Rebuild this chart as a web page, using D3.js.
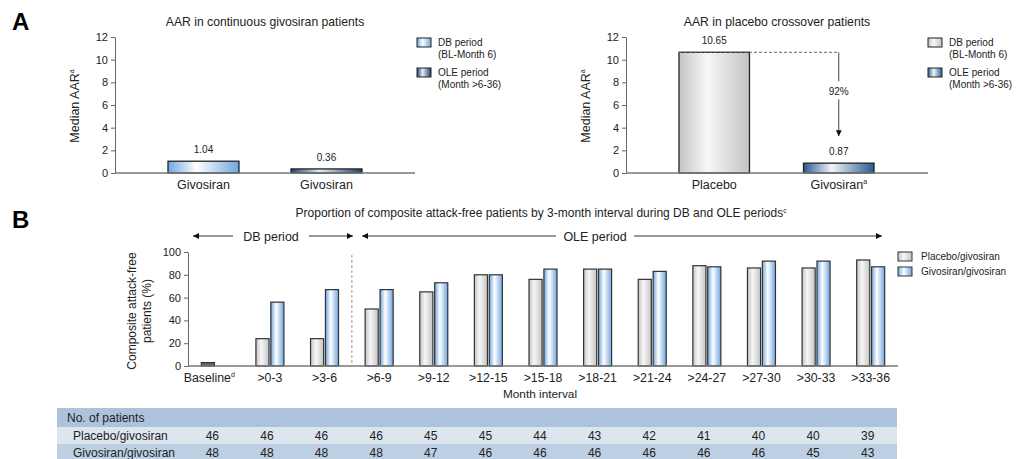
<!DOCTYPE html>
<html>
<head>
<meta charset="utf-8">
<script src="https://cdn.jsdelivr.net/npm/d3@7"></script>
<style>
  body { margin: 0; background: #fff; }
  svg { font-family: "Liberation Sans", Arial, sans-serif; }
  .axis path, .axis line { stroke: #666; }
  .axis text { fill: #222; font-size: 11px; }
</style>
</head>
<body>
<svg id="chart" width="1019" height="459"></svg>
<script>
// ---- data ----
const aar_left_keys = ["DB", "OLE"];
const aar_left_labels = ["Givosiran", "Givosiran"];
const aar_left_values = [1.04, 0.36];

const aar_right_keys = ["DB", "OLE"];
const aar_right_labels = ["Placebo", "Givosiran"];
const aar_right_values = [10.65, 0.87];
const reduction_label = "92%";

const intervals = ["Baseline", ">0-3", ">3-6", ">6-9", ">9-12", ">12-15", ">15-18", ">18-21", ">21-24", ">24-27", ">27-30", ">30-33", ">33-36"];
const placebo_free = [3, 24, 24, 50, 65, 80, 76, 85, 76, 88, 86, 86, 93];
const givosiran_free = [null, 56, 67, 67, 73, 80, 85, 85, 83, 87, 92, 92, 87];

const n_placebo = [46, 46, 46, 46, 45, 45, 44, 43, 42, 41, 40, 40, 39];
const n_givosiran = [48, 48, 48, 48, 47, 46, 46, 46, 46, 46, 46, 45, 43];

const yTicksA = [0, 2, 4, 6, 8, 10, 12];
const yTicksB = [0, 20, 40, 60, 80, 100];

const svg = d3.select("#chart");
const defs = svg.append("defs");

function add_gradient(id, edge, mid) {
    let g = defs.append("linearGradient").attr("id", id)
        .attr("x1", "0%").attr("x2", "100%").attr("y1", "0%").attr("y2", "0%");
    g.append("stop").attr("offset", "0%").attr("stop-color", edge);
    g.append("stop").attr("offset", "40%").attr("stop-color", mid);
    g.append("stop").attr("offset", "100%").attr("stop-color", edge);
}
add_gradient("g_light", "#6fa6df", "#ffffff");
add_gradient("g_gray", "#c4c4c4", "#f7f7f7");
add_gradient("g_dark", "#1b416c", "#e6edf5");
add_gradient("g_mid", "#285a93", "#f0f4f8");

defs.append("marker").attr("id", "arrowhead")
    .attr("viewBox", "0 0 10 10").attr("refX", 10).attr("refY", 5)
    .attr("markerWidth", 9).attr("markerHeight", 6).attr("orient", "auto-start-reverse")
    .attr("markerUnits", "userSpaceOnUse")
    .append("path").attr("d", "M0,0L10,5L0,10Z").attr("fill", "#111");

// panel letters
svg.append("text").attr("x", 12).attr("y", 30).text("A")
    .attr("font-size", 24).attr("font-weight", "bold");
svg.append("text").attr("x", 12).attr("y", 228).text("B")
    .attr("font-size", 24).attr("font-weight", "bold");

// ---- panel A ----
const yA = d3.scaleLinear().domain([0, 12]).range([173, 37]);

function draw_aar(opt) {
    let g = svg.append("g");
    let x = d3.scaleBand().domain(opt.keys).range(opt.range)
        .paddingInner(opt.pad).paddingOuter(0);

    g.append("text").attr("x", opt.titleX).attr("y", 26).attr("text-anchor", "middle")
        .attr("font-size", 12.2).attr("fill", "#222").text(opt.title);

    g.append("g").attr("class", "axis")
        .attr("transform", `translate(${opt.axisX},0)`)
        .call(d3.axisLeft(yA).tickValues(yTicksA).tickSize(4).tickPadding(3).tickSizeOuter(0));

    let yl = g.append("text")
        .attr("transform", `translate(${opt.axisX - 36},106)rotate(-90)`)
        .attr("text-anchor", "middle").attr("font-size", 12.5).attr("fill", "#222");
    yl.append("tspan").text("Median AAR");
    yl.append("tspan").text("a").attr("font-size", 7).attr("dy", -5);

    g.selectAll("rect.bar").data(opt.values).enter().append("rect")
        .attr("class", "bar")
        .attr("x", (d, i) => x(opt.keys[i]))
        .attr("width", x.bandwidth())
        .attr("y", d => yA(d))
        .attr("height", d => yA(0) - yA(d))
        .attr("fill", (d, i) => `url(#${opt.fills[i]})`)
        .attr("stroke", "#222").attr("stroke-width", 1.3);

    g.selectAll("text.val").data(opt.values).enter().append("text")
        .attr("class", "val")
        .attr("x", (d, i) => x(opt.keys[i]) + x.bandwidth() / 2)
        .attr("y", d => yA(d) - 8)
        .attr("text-anchor", "middle").attr("font-size", 10).attr("fill", "#222")
        .text(d => d.toFixed(2));

    g.append("line").attr("x1", opt.axisX).attr("x2", opt.axisEnd)
        .attr("y1", yA(0)).attr("y2", yA(0))
        .attr("stroke", "#777").attr("stroke-width", 1.5);

    g.selectAll("text.cat").data(opt.labels).enter().append("text")
        .attr("class", "cat")
        .attr("x", (d, i) => x(opt.keys[i]) + x.bandwidth() / 2)
        .attr("y", 189).attr("text-anchor", "middle")
        .attr("font-size", 12.5).attr("fill", "#222")
        .each(function (d, i) {
            d3.select(this).append("tspan").text(d);
            if (opt.sup[i]) d3.select(this).append("tspan").text(opt.sup[i])
                .attr("font-size", 7).attr("dy", -5);
        });

    // legend
    let lg = g.append("g").attr("transform", `translate(${opt.legX},0)`);
    let items = [["DB period", "(BL-Month 6)"], ["OLE period", "(Month >6-36)"]];
    items.forEach((it, i) => {
        let y0 = 38 + i * 30;
        lg.append("rect").attr("x", 0).attr("y", y0).attr("width", 14).attr("height", 9)
            .attr("fill", `url(#${opt.fills[i]})`).attr("stroke", "#222").attr("stroke-width", 1);
        lg.append("text").attr("x", 21).attr("y", y0 + 8).attr("font-size", 10)
            .attr("fill", "#222").text(it[0]);
        lg.append("text").attr("x", 21).attr("y", y0 + 20).attr("font-size", 10)
            .attr("fill", "#222").text(it[1]);
    });
    return { g, x };
}

draw_aar({
    keys: aar_left_keys, labels: aar_left_labels, values: aar_left_values, sup: ["", ""],
    range: [168, 362], pad: 0.423, axisX: 115, axisEnd: 415, titleX: 265,
    title: "AAR in continuous givosiran patients", fills: ["g_light", "g_dark"], legX: 417
});

const right = draw_aar({
    keys: aar_right_keys, labels: aar_right_labels, values: aar_right_values, sup: ["", "a"],
    range: [679, 874], pad: 0.434, axisX: 626, axisEnd: 928, titleX: 777,
    title: "AAR in placebo crossover patients", fills: ["g_gray", "g_mid"], legX: 928
});

// reduction arrow
{
    let x = right.x;
    let xa = x("OLE") + x.bandwidth() / 2;
    let ytop = yA(aar_right_values[0]);
    let yend = yA(aar_right_values[1]) - 27;
    right.g.append("line").attr("x1", x("DB")).attr("x2", xa).attr("y1", ytop).attr("y2", ytop)
        .attr("stroke", "#666").attr("stroke-dasharray", "3,2");
    right.g.append("line").attr("x1", xa).attr("x2", xa).attr("y1", ytop).attr("y2", ytop + 29)
        .attr("stroke", "#444");
    right.g.append("line").attr("x1", xa).attr("x2", xa).attr("y1", ytop + 47).attr("y2", yend)
        .attr("stroke", "#444").attr("marker-end", "url(#arrowhead)");
    right.g.append("text").attr("x", xa).attr("y", ytop + 43).attr("text-anchor", "middle")
        .attr("font-size", 10).attr("fill", "#222").text(reduction_label);
}

// ---- panel B ----
const x0 = d3.scaleBand().domain(intervals).range([188, 898]).padding(0);
const x1 = d3.scaleBand().domain(["placebo", "givosiran"])
    .range([x0.bandwidth() / 2 - 14, x0.bandwidth() / 2 + 14]).paddingInner(0.12);
const yB = d3.scaleLinear().domain([0, 100]).range([366, 252]);

const gB = svg.append("g");

let tB = gB.append("text").attr("x", 541).attr("y", 217).attr("text-anchor", "middle")
    .attr("font-size", 12).attr("fill", "#222");
tB.append("tspan").text("Proportion of composite attack-free patients by 3-month interval during DB and OLE periods");
tB.append("tspan").text("c").attr("font-size", 6.5).attr("dy", -4);

// period arrows
function period_arrow(x_start, x_end, tx, label, w) {
    gB.append("line").attr("x1", tx - w / 2 - 7).attr("x2", x_start).attr("y1", 236).attr("y2", 236)
        .attr("stroke", "#333").attr("marker-end", "url(#arrowhead)");
    gB.append("line").attr("x1", tx + w / 2 + 7).attr("x2", x_end).attr("y1", 236).attr("y2", 236)
        .attr("stroke", "#333").attr("marker-end", "url(#arrowhead)");
    gB.append("text").attr("x", tx).attr("y", 240.5).attr("text-anchor", "middle")
        .attr("font-size", 12.5).attr("fill", "#222").text(label);
}
period_arrow(193, 353, 271, "DB period", 62);
period_arrow(362, 882, 595, "OLE period", 64);

gB.append("g").attr("class", "axis").attr("transform", "translate(188,0)")
    .call(d3.axisLeft(yB).tickValues(yTicksB).tickSize(4).tickPadding(3).tickSizeOuter(0));

gB.append("line").attr("x1", x0(">6-9")).attr("x2", x0(">6-9"))
    .attr("y1", 255).attr("y2", 366)
    .attr("stroke", "#aaa").attr("stroke-dasharray", "3,2").attr("stroke-width", 1.2);

let ylB = gB.append("text").attr("transform", "translate(136,311)rotate(-90)")
    .attr("text-anchor", "middle").attr("font-size", 12).attr("fill", "#222");
ylB.append("tspan").attr("x", 0).attr("dy", 0).text("Composite attack-free");
ylB.append("tspan").attr("x", 0).attr("dy", 15).text("patients (%)");

const series = [
    { key: "placebo", values: placebo_free, fill: "g_gray" },
    { key: "givosiran", values: givosiran_free, fill: "g_light" }
];

series.forEach(s => {
    gB.append("g").selectAll("rect")
        .data(s.values.map((v, i) => ({ v, cat: intervals[i] })).filter(d => d.v != null))
        .enter().append("rect")
        .attr("x", d => x0(d.cat) + x1(s.key))
        .attr("width", x1.bandwidth())
        .attr("y", d => yB(d.v))
        .attr("height", d => yB(0) - yB(d.v))
        .attr("fill", d => d.cat === "Baseline" ? "#666" : `url(#${s.fill})`)
        .attr("stroke", "#333").attr("stroke-width", 1.2);
});

gB.append("line").attr("x1", 188).attr("x2", 898).attr("y1", yB(0)).attr("y2", yB(0))
    .attr("stroke", "#777").attr("stroke-width", 1.5);

gB.selectAll("text.cat").data(intervals).enter().append("text")
    .attr("class", "cat")
    .attr("x", d => x0(d) + x0.bandwidth() / 2 - (d === "Baseline" ? 6 : 0))
    .attr("y", 382).attr("text-anchor", "middle").attr("font-size", 12.3).attr("fill", "#222")
    .each(function (d) {
        d3.select(this).append("tspan").text(d);
        if (d === "Baseline") d3.select(this).append("tspan").text("d")
            .attr("font-size", 7).attr("dy", -5);
    });

gB.append("text").attr("x", 540).attr("y", 398).attr("text-anchor", "middle")
    .attr("font-size", 11.8).attr("fill", "#222").text("Month interval");

// legend B
[["Placebo/givosiran", "g_gray"], ["Givosiran/givosiran", "g_light"]].forEach((it, i) => {
    let y0 = 252 + i * 15;
    gB.append("rect").attr("x", 898).attr("y", y0).attr("width", 14).attr("height", 9)
        .attr("fill", `url(#${it[1]})`).attr("stroke", "#333").attr("stroke-width", 1);
    gB.append("text").attr("x", 921).attr("y", y0 + 8).attr("font-size", 10)
        .attr("fill", "#222").text(it[0]);
});

// ---- table ----
const gT = svg.append("g");
const rows = [
    { label: "No. of patients", values: null, y: 408, h: 19, fill: "#adc3db", indent: 67 },
    { label: "Placebo/givosiran", values: n_placebo, y: 427, h: 17, fill: "#dde5ef", indent: 73 },
    { label: "Givosiran/givosiran", values: n_givosiran, y: 444, h: 16, fill: "#bdcfe3", indent: 73 }
];
rows.forEach(r => {
    gT.append("rect").attr("x", 57).attr("y", r.y).attr("width", 840).attr("height", r.h)
        .attr("fill", r.fill);
    gT.append("text").attr("x", r.indent).attr("y", r.y + r.h / 2 + 4.5)
        .attr("font-size", 12).attr("fill", "#222").text(r.label);
    if (r.values) {
        gT.selectAll(null).data(r.values).enter().append("text")
            .attr("x", (d, i) => x0(intervals[i]) + x0.bandwidth() / 2 - 3)
            .attr("y", r.y + r.h / 2 + 4.5)
            .attr("text-anchor", "middle").attr("font-size", 12).attr("fill", "#222")
            .text(d => d);
    }
});
</script>
</body>
</html>
